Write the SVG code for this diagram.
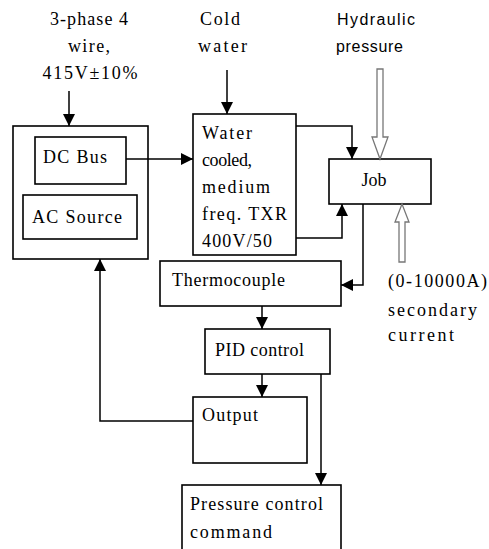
<svg xmlns="http://www.w3.org/2000/svg" width="489" height="549" viewBox="0 0 489 549">
<style>
.box{fill:#fff;stroke:#000;stroke-width:1.6}
.ln{fill:none;stroke:#000;stroke-width:1.5}
.t{font-family:"Liberation Serif","Times New Roman",serif;font-size:18px;fill:#000}
.s{font-family:"Liberation Sans",Arial,sans-serif;font-size:16px;fill:#000}
.hol{fill:#fff;stroke:#777;stroke-width:1.3}
</style>
<defs>
<marker id="ah" markerUnits="userSpaceOnUse" markerWidth="12" markerHeight="12" viewBox="0 0 12 12" refX="12" refY="6" orient="auto">
<path d="M0,0 L12,6 L0,12 Z" fill="#000"/>
</marker>
</defs>
<rect width="489" height="549" fill="#fff"/>

<g id="labels">
<text class="t" x="89" y="25" text-anchor="middle" textLength="78">3-phase 4</text>
<text class="t" x="89" y="52" text-anchor="middle" textLength="42">wire,</text>
<text class="t" x="90" y="79" text-anchor="middle" textLength="95">415V±10%</text>
<text class="t" x="200" y="25" textLength="40">Cold</text>
<text class="t" x="198" y="52" textLength="49">water</text>
<text class="s" x="337" y="25" textLength="78">Hydraulic</text>
<text class="s" x="336" y="52" textLength="67">pressure</text>
<text class="t" x="388" y="287" textLength="99">(0-10000A)</text>
<text class="t" x="388" y="316" textLength="89">secondary</text>
<text class="t" x="388" y="341" textLength="66">current</text>
</g>

<g id="supply">
<rect class="box" x="13" y="126" width="135" height="133"/>
</g>
<g id="dcbus">
<rect class="box" x="35" y="137" width="91" height="47"/>
<text class="t" x="43" y="163" textLength="64">DC Bus</text>
</g>
<g id="acsource">
<rect class="box" x="23" y="195" width="114" height="44"/>
<text class="t" x="32" y="223" textLength="90">AC Source</text>
</g>
<g id="txr">
<rect class="box" x="193" y="114" width="103" height="141"/>
<text class="t" x="202" y="139" textLength="50">Water</text>
<text class="t" x="202" y="166" textLength="50">cooled,</text>
<text class="t" x="202" y="193" textLength="68">medium</text>
<text class="t" x="202" y="220" textLength="85">freq. TXR</text>
<text class="t" x="202" y="247" textLength="70">400V/50</text>
</g>
<g id="job">
<rect class="box" x="329" y="159" width="102" height="45"/>
<text class="t" x="374" y="186" text-anchor="middle">Job</text>
</g>
<g id="thermocouple">
<rect class="box" x="160" y="261" width="181" height="45"/>
<text class="t" x="172" y="286" textLength="113">Thermocouple</text>
</g>
<g id="pid">
<rect class="box" x="205" y="329" width="125" height="45"/>
<text class="t" x="215" y="356" textLength="89">PID control</text>
</g>
<g id="output">
<rect class="box" x="193" y="397" width="114" height="66"/>
<text class="t" x="202" y="421" textLength="56">Output</text>
</g>
<g id="pressure">
<rect class="box" x="182" y="485" width="159" height="80"/>
<text class="t" x="190" y="510" textLength="133">Pressure control</text>
<text class="t" x="190" y="538" textLength="82">command</text>
</g>

<g id="connectors">
<path class="ln" d="M69,91 V126" marker-end="url(#ah)"/>
<path class="ln" d="M227,70 V114" marker-end="url(#ah)"/>
<path class="ln" d="M126,159 H193" marker-end="url(#ah)"/>
<path class="ln" d="M296,126 H352 V159" marker-end="url(#ah)"/>
<path class="ln" d="M296,238 H342 V204" marker-end="url(#ah)"/>
<path class="ln" d="M363,204 V285 H341" marker-end="url(#ah)"/>
<path class="ln" d="M262,306 V329" marker-end="url(#ah)"/>
<path class="ln" d="M262,374 V397" marker-end="url(#ah)"/>
<path class="ln" d="M321,374 V485" marker-end="url(#ah)"/>
<path class="ln" d="M193,421 H100 V259" marker-end="url(#ah)"/>
<polygon class="hol" points="377,69 383,69 383,137 388,137 380,159 372,137 377,137"/>
<polygon class="hol" points="399,262 405,262 405,222 409,222 402,204 395,222 399,222"/>
</g>
</svg>
